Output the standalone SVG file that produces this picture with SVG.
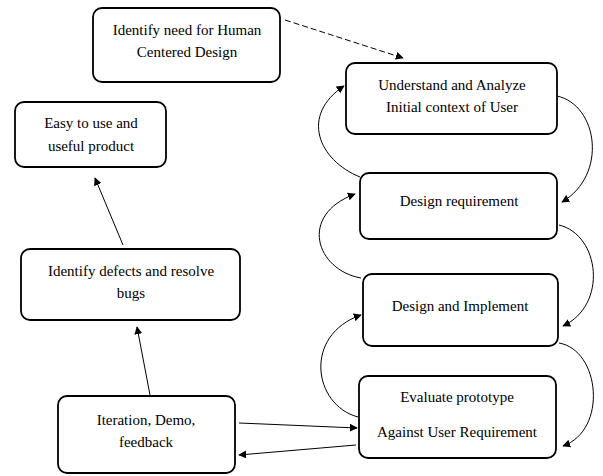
<svg xmlns="http://www.w3.org/2000/svg" width="603" height="476" viewBox="0 0 603 476">
<defs>
<marker id="ah" viewBox="0 0 10 10" refX="9" refY="5" markerWidth="8" markerHeight="8" markerUnits="userSpaceOnUse" orient="auto">
<path d="M0,0 L10,5 L0,10 z" fill="#000"/>
</marker>
</defs>
<style>
.box{fill:#fff;stroke:#000;stroke-width:1.8}
.t{font-family:"Liberation Serif","Times New Roman",serif;font-size:15px;fill:#000;text-anchor:middle}
.c{fill:none;stroke:#000;stroke-width:1;marker-end:url(#ah)}
.d{stroke-dasharray:6,3}
</style>
<rect width="603" height="476" fill="#fff"/>
<g id="connectors">
<path class="c d" d="M285,20 L403,58"/>
<path class="c" d="M360,177 C318,160 300,115 344,86"/>
<path class="c" d="M557,96 C598,105 608,175 562,202"/>
<path class="c" d="M361,278 C316,270 298,215 355,194"/>
<path class="c" d="M559,225 C600,235 608,305 563,326"/>
<path class="c" d="M358,417 C313,405 303,335 361,315"/>
<path class="c" d="M559,343 C600,350 608,430 563,446"/>
<path class="c" d="M239,423 L357,428"/>
<path class="c" d="M356,445 L239,455"/>
<path class="c" d="M150,395 L137,327"/>
<path class="c" d="M123,245 L95,178"/>
</g>
<g id="n1"><rect class="box" x="93" y="8" width="187" height="74" rx="9"/><text class="t" x="187" y="35">Identify need for Human</text><text class="t" x="187" y="57">Centered Design</text></g>
<g id="n2"><rect class="box" x="346" y="63" width="211" height="71" rx="9"/><text class="t" x="452" y="90">Understand and Analyze</text><text class="t" x="452" y="112">Initial context of User</text></g>
<g id="n3"><rect class="box" x="15" y="102" width="151" height="65" rx="9"/><text class="t" x="91" y="128">Easy to use and</text><text class="t" x="91" y="151">useful product</text></g>
<g id="n4"><rect class="box" x="360" y="173" width="197" height="66" rx="9"/><text class="t" x="459" y="206">Design requirement</text></g>
<g id="n5"><rect class="box" x="21" y="249" width="219" height="71" rx="9"/><text class="t" x="131" y="276">Identify defects and resolve</text><text class="t" x="131" y="298">bugs</text></g>
<g id="n6"><rect class="box" x="363" y="274" width="195" height="72" rx="9"/><text class="t" x="460" y="311">Design and Implement</text></g>
<g id="n7"><rect class="box" x="359" y="376" width="197" height="82" rx="9"/><text class="t" x="457" y="402">Evaluate prototype</text><text class="t" x="457" y="437">Against User Requirement</text></g>
<g id="n8"><rect class="box" x="58" y="396" width="177" height="77" rx="9"/><text class="t" x="146" y="425">Iteration, Demo,</text><text class="t" x="146" y="447">feedback</text></g>
</svg>
